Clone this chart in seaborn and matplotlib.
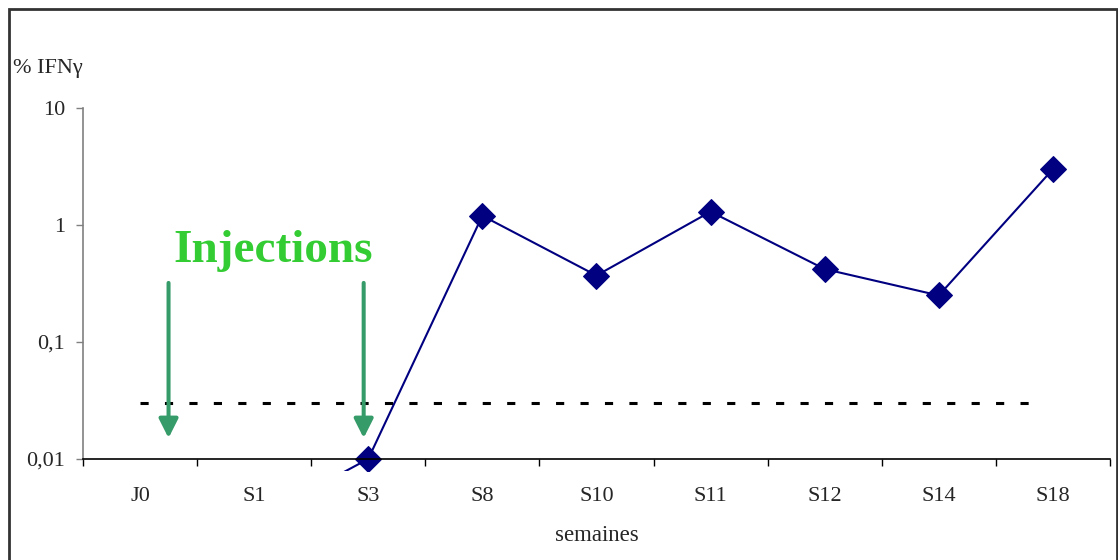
import numpy as np
import pandas as pd
import matplotlib
matplotlib.use('Agg')
import matplotlib.pyplot as plt
import seaborn as sns
from matplotlib.patches import Rectangle

# data
weeks = ['J0', 'S1', 'S3', 'S8', 'S10', 'S11', 'S12', 'S14', 'S18']
measured_weeks = ['S1', 'S3', 'S8', 'S10', 'S11', 'S12', 'S14', 'S18']
ifn_values = [0.003, 0.01, 1.2, 0.37, 1.3, 0.42, 0.25, 3.0]
threshold = 0.03
injection_pos = [0.25, 1.96]

sns.set_theme(style='white')
plt.rcParams['font.family'] = ['Liberation Serif', 'DejaVu Serif']

df = pd.DataFrame({'week': measured_weeks, 'ifn': ifn_values})
df['pos'] = [weeks.index(w) for w in df.week]

fig = plt.figure(figsize=(11.18, 5.6), dpi=100)
ax = fig.add_axes([0.0742, 0.1804, 0.9186, 0.6267])

sns.lineplot(data=df, x='pos', y='ifn', ax=ax, color='#000080', linewidth=1.5,
             marker='D', markersize=13, markeredgecolor='#000080', markerfacecolor='#000080')
ax.set_yscale('log')
ax.set_ylim(0.01, 10)
ax.set_xlim(-0.5, len(weeks) - 0.5)

# let the line run a little below the axis like the original
clip = Rectangle((0, -0.035), 1, 1.035, transform=ax.transAxes)
for ln in ax.lines:
    ln.set_clip_path(clip)

# threshold
ax.plot([0, 7.9], [threshold, threshold], color='black', linestyle=(0, (2.67, 5.33)), linewidth=2.2)

# injection arrows
for xp in injection_pos:
    ax.annotate('', xy=(xp, 0.0151), xytext=(xp, 0.32),
                arrowprops=dict(arrowstyle='-|>,head_length=1.15,head_width=0.58',
                                mutation_scale=10, color='#359b69', lw=2.9,
                                shrinkA=0, shrinkB=0))
ax.text(1.17, 0.48, 'Injections', color='#33cc33', fontsize=34, fontweight='bold',
        ha='center', va='baseline')

# axes styling
ax.set_yticks([0.01, 0.1, 1, 10])
ax.set_yticklabels(['0,01', '0,1', '1', '10'])
ax.yaxis.set_minor_locator(matplotlib.ticker.NullLocator())
ax.set_xticks(np.arange(len(weeks)))
ax.set_xticklabels(weeks)
ax.set_xticks(np.arange(len(weeks) + 1) - 0.5, minor=True)
ax.tick_params(axis='x', which='major', length=0, labelsize=16, pad=20)
ax.tick_params(axis='x', which='minor', length=5, width=1, color='black', direction='out', bottom=True)
ax.tick_params(axis='y', which='major', length=5, width=1, color='#808080', left=True,
               labelsize=16, pad=8)
for s in ['top', 'right']:
    ax.spines[s].set_visible(False)
ax.spines['left'].set_color('#808080')
ax.spines['left'].set_linewidth(1.2)
ax.spines['bottom'].set_color('black')
ax.spines['bottom'].set_linewidth(1.2)
ax.set_xlabel('semaines', fontsize=16.5, labelpad=14)
ax.set_ylabel('')
ax.grid(False)

fig.text(13 / 1118, 1 - 68 / 560, '% IFNγ', fontsize=16, ha='left', va='center')

# outer frame
fig.patches.append(Rectangle((9 / 1118, -0.1), 1108 / 1118, 1 - 9 / 560 + 0.1,
                             transform=fig.transFigure, fill=False,
                             edgecolor='#333333', linewidth=2))

fig.savefig('out.png', dpi=100)
